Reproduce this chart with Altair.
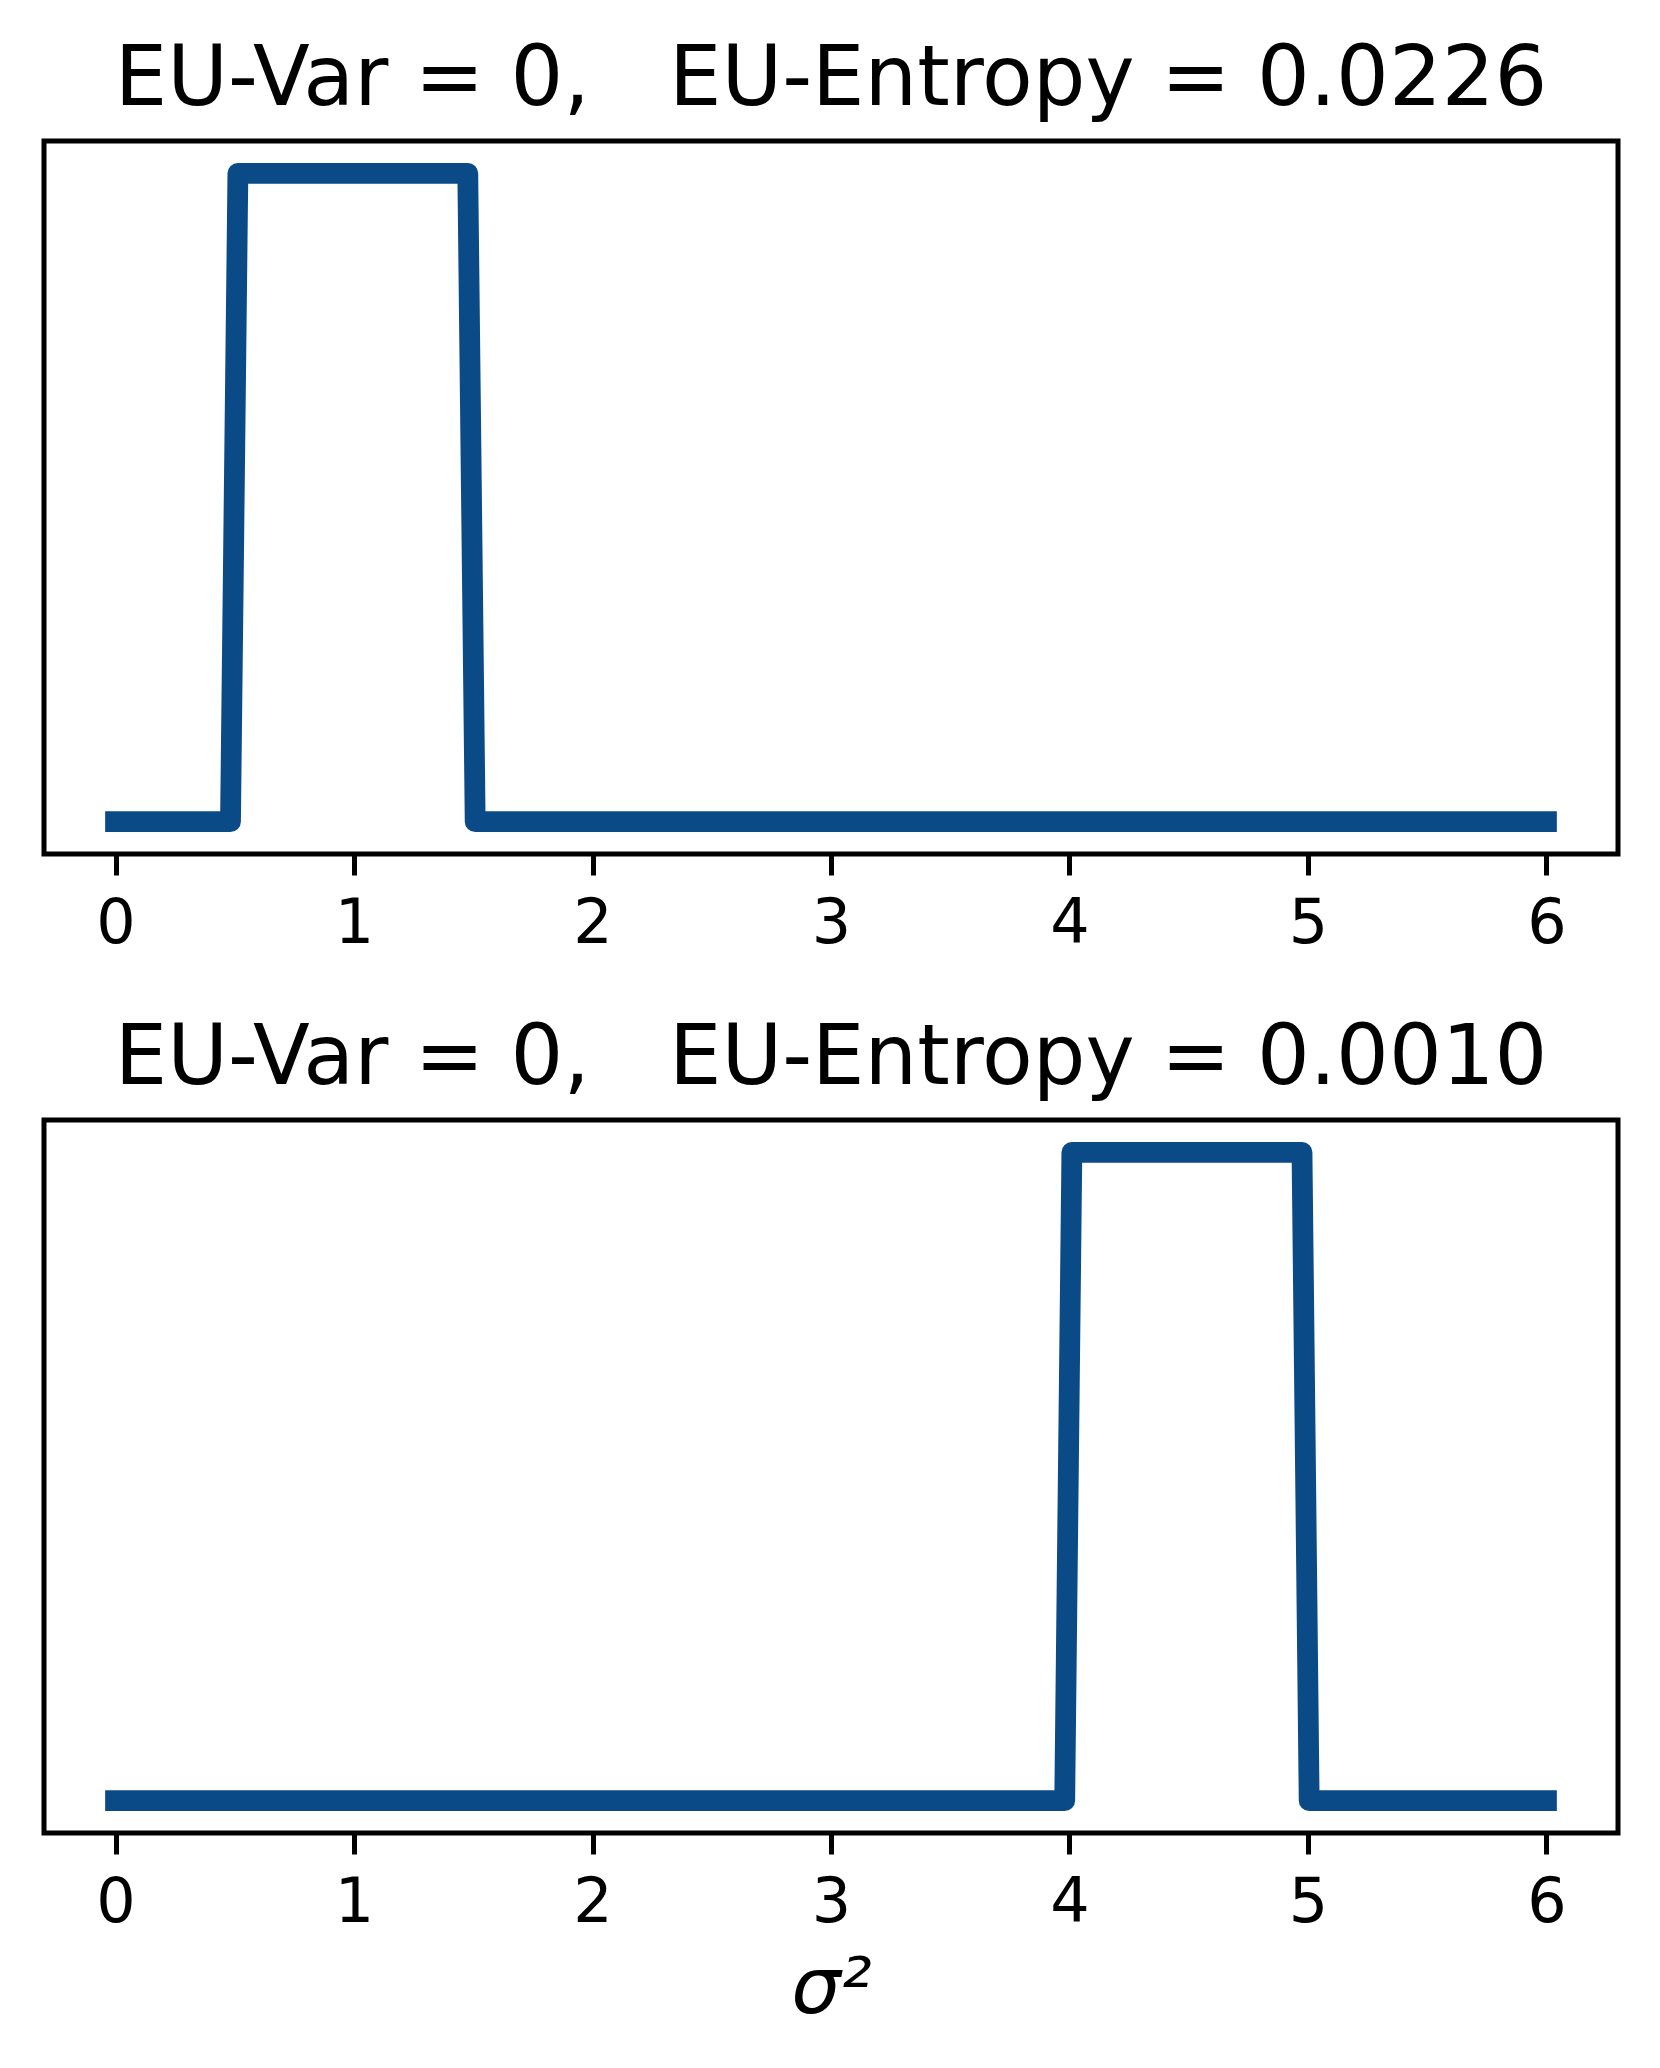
import altair as alt
import pandas as pd

# Step-shaped density curves
top_x = [0.0, 0.482, 0.513, 1.477, 1.508, 6.0]
top_y = [0, 0, 1, 1, 0, 0]
bot_x = [0.0, 3.980, 4.010, 4.975, 5.005, 6.0]
bot_y = [0, 0, 1, 1, 0, 0]

titles = [
    "EU-Var = 0,\u00a0\u00a0\u00a0EU-Entropy = 0.0226",
    "EU-Var = 0,\u00a0\u00a0\u00a0EU-Entropy = 0.0010",
]
tick_values = [0, 1, 2, 3, 4, 5, 6]
x_label = "σ²"

LINE_COLOR = "#0a4b87"
FONT = "DejaVu Sans"
W, H = 1574, 713


def panel(xs, ys, title, show_xtitle):
    df = pd.DataFrame({"x": xs, "y": ys, "i": list(range(len(xs)))})
    axis_kw = dict(
        values=tick_values,
        grid=False,
        domain=False,
        ticks=True,
        tickSize=21,
        tickWidth=5,
        tickColor="black",
        labelFont=FONT,
        labelFontSize=62,
        labelColor="black",
        labelPadding=18,
        labelAngle=0,
        format="d",
    )
    if show_xtitle:
        axis_kw.update(
            title=x_label,
            titleFont=FONT,
            titleFontSize=78,
            titleFontStyle="italic",
            titleFontWeight="normal",
            titleColor="black",
            titleBaseline="alphabetic",
            titleY=179,
        )
    else:
        axis_kw.update(title=None)
    return (
        alt.Chart(df)
        .mark_line(
            color=LINE_COLOR,
            strokeWidth=20.8,
            strokeJoin="round",
            strokeCap="square",
        )
        .encode(
            x=alt.X("x:Q", scale=alt.Scale(domain=[-0.3, 6.3], nice=False, zero=False),
                    axis=alt.Axis(**axis_kw)),
            y=alt.Y("y:Q", scale=alt.Scale(domain=[-0.05, 1.05], nice=False, zero=False),
                    axis=None),
            order="i:Q",
        )
        .properties(
            width=W,
            height=H,
            view=alt.ViewBackground(stroke="black", strokeWidth=5, fill="white"),
            title=alt.TitleParams(
                text=title,
                font=FONT,
                fontSize=83,
                fontWeight="normal",
                color="black",
                anchor="middle",
                frame="group",
                baseline="alphabetic",
                offset=34,
                dy=81,
            ),
        )
    )


chart = (
    alt.vconcat(
        panel(top_x, top_y, titles[0], False),
        panel(bot_x, bot_y, titles[1], True),
        spacing=58,
    )
    .properties(padding={"left": 33, "top": 28, "right": 10, "bottom": 10})
    .configure_view(stroke="black", strokeWidth=5, fill="white")
    .configure(background="white")
)

chart.save("out.html", embed_options={"renderer": "svg", "actions": False})
